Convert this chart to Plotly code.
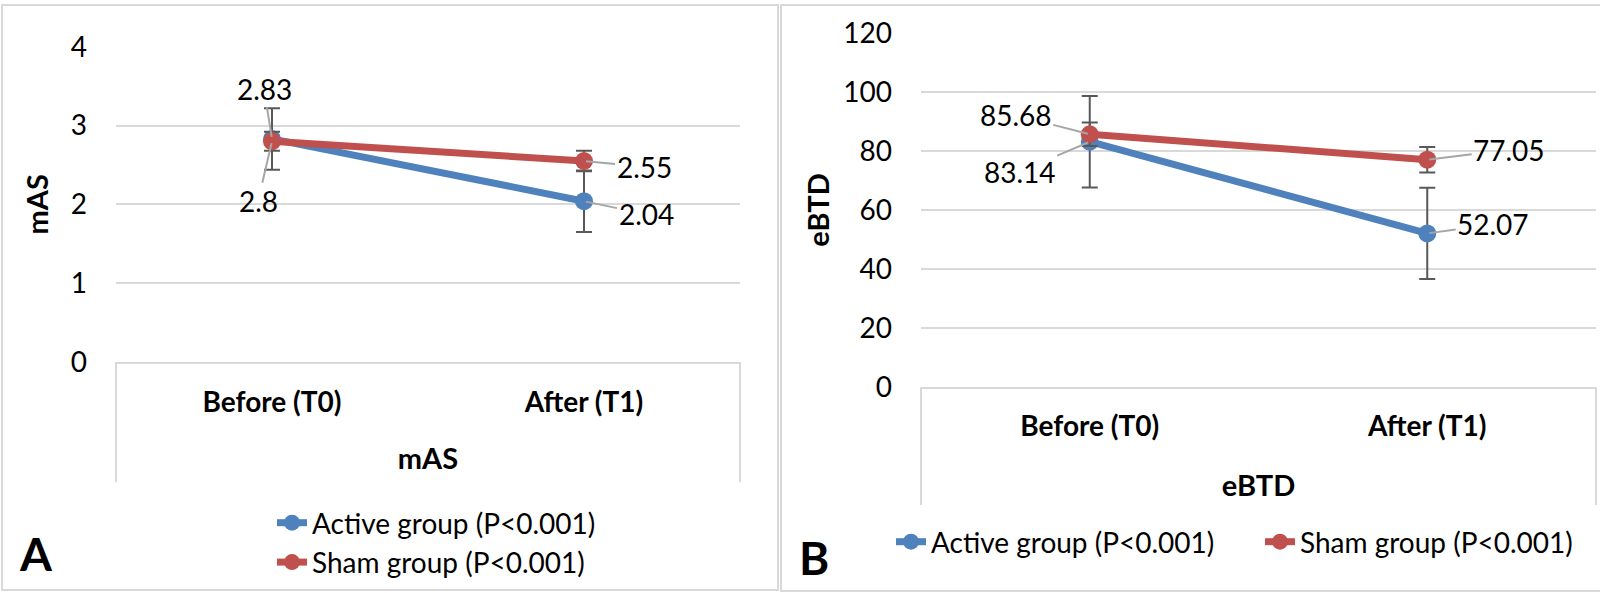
import plotly.graph_objects as go

# ---- data ----
categories = ["Before (T0)", "After (T1)"]

mas_active = [2.83, 2.04]
mas_active_sd = [0.39, 0.39]
mas_sham = [2.80, 2.55]
mas_sham_sd = [0.12, 0.13]

ebtd_active = [83.14, 52.07]
ebtd_active_sd = [15.5, 15.5]
ebtd_sham = [85.68, 77.05]
ebtd_sham_sd = [4.0, 4.3]

active_name = "Active group (P<0.001)"
sham_name = "Sham group (P<0.001)"

BLUE = "#4F81BD"
RED = "#C0504D"
GRID = "#D9D9D9"
ERR = "#595959"
LEADER = "#A6A6A6"
FONT = "Lato"

W, H = 1600, 593


def px_x(v):
    return v / W


def px_y(v):
    return 1 - v / H


fig = go.Figure()


def add_series(xa, ya, vals, sd, name, color, legend):
    fig.add_trace(go.Scatter(
        x=categories, y=vals, name=name, mode="lines+markers",
        line=dict(color=color, width=7),
        marker=dict(color=color, size=18),
        error_y=dict(type="data", array=sd, visible=True, color=ERR,
                     thickness=2, width=8),
        xaxis=xa, yaxis=ya, legend=legend, showlegend=True,
    ))


add_series("x", "y", mas_active, mas_active_sd, active_name, BLUE, "legend")
add_series("x", "y", mas_sham, mas_sham_sd, sham_name, RED, "legend")
add_series("x2", "y2", ebtd_active, ebtd_active_sd, active_name, BLUE, "legend2")
add_series("x2", "y2", ebtd_sham, ebtd_sham_sd, sham_name, RED, "legend2")

tickfont = dict(family=FONT, size=28, color="black")
catfont = dict(family=FONT, size=28, color="black", weight="bold")
titlefont = dict(family=FONT, size=29, color="black", weight="bold")

# panel A axes
fig.update_layout(
    xaxis=dict(domain=[px_x(116), px_x(740)], type="category",
               range=[-0.5, 1.5], showgrid=False, showline=True,
               linecolor=GRID, linewidth=2, ticks="", tickfont=catfont,
               ticklabelstandoff=14, automargin=False,
               title=dict(text="mAS", font=titlefont, standoff=32),
               anchor="y", zeroline=False),
    yaxis=dict(domain=[px_y(362), px_y(46.7)], range=[0, 4], dtick=1,
               showgrid=True, gridcolor=GRID, gridwidth=2, zeroline=False,
               showline=False, ticks="", tickfont=tickfont,
               ticklabelstandoff=28, automargin=False,
               title=dict(text="mAS", font=titlefont, standoff=13),
               anchor="x"),
    xaxis2=dict(domain=[px_x(921), px_x(1596)], type="category",
                range=[-0.5, 1.5], showgrid=False, showline=True,
                linecolor=GRID, linewidth=2, ticks="", tickfont=catfont,
                ticklabelstandoff=13, automargin=False,
                title=dict(text="eBTD", font=titlefont, standoff=35),
                anchor="y2", zeroline=False),
    yaxis2=dict(domain=[px_y(387), px_y(33)], range=[0, 120], dtick=20,
                showgrid=True, gridcolor=GRID, gridwidth=2, zeroline=False,
                showline=False, ticks="", tickfont=tickfont,
                ticklabelstandoff=28, automargin=False,
                title=dict(text="eBTD", font=titlefont, standoff=5),
                anchor="x2"),
)

legfont = dict(family=FONT, size=28, color="black")
fig.update_layout(
    legend=dict(x=px_x(272), y=px_y(542.5), xanchor="left", yanchor="middle",
                orientation="v", font=legfont, bgcolor="rgba(0,0,0,0)",
                tracegroupgap=0, itemwidth=30),
    legend2=dict(x=px_x(891), y=px_y(542), xanchor="left", yanchor="middle",
                 orientation="h", font=legfont, bgcolor="rgba(0,0,0,0)",
                 itemwidth=30, entrywidth=324),
)

# frames and category-axis box lines
shapes = [
    dict(type="rect", xref="paper", yref="paper", x0=px_x(2), x1=px_x(778),
         y0=px_y(590), y1=px_y(5), line=dict(color=GRID, width=2)),
    dict(type="rect", xref="paper", yref="paper", x0=px_x(781), x1=px_x(1604),
         y0=px_y(591), y1=px_y(5), line=dict(color=GRID, width=2)),
]
for x0, ytop, ybot in [(116, 362, 482), (740, 362, 482), (921, 387, 505), (1596, 387, 505)]:
    shapes.append(dict(type="line", xref="paper", yref="paper",
                       x0=px_x(x0), x1=px_x(x0), y0=px_y(ytop), y1=px_y(ybot),
                       line=dict(color=GRID, width=2)))
fig.update_layout(shapes=shapes)

# data labels with leader lines
labfont = dict(family=FONT, size=28, color="black")
ann = []


def label(xref, yref, cat, val, text, ax, ay):
    ann.append(dict(x=cat, y=val, xref=xref, yref=yref, text=text,
                    showarrow=True, arrowhead=0, arrowwidth=2,
                    arrowcolor=LEADER, ax=ax, ay=ay, standoff=2,
                    font=labfont))


label("x", "y", categories[0], mas_active[0], f"{mas_active[0]:g}", -8, -50)
label("x", "y", categories[0], mas_sham[0], f"{mas_sham[0]:g}", -14, 60)
label("x", "y", categories[1], mas_sham[1], f"{mas_sham[1]:g}", 60, 6)
label("x", "y", categories[1], mas_active[1], f"{mas_active[1]:g}", 62, 13)
label("x2", "y2", categories[0], ebtd_sham[0], f"{ebtd_sham[0]:g}", -74, -19)
label("x2", "y2", categories[0], ebtd_active[0], f"{ebtd_active[0]:g}", -70, 30)
label("x2", "y2", categories[1], ebtd_sham[1], f"{ebtd_sham[1]:g}", 82, -10)
label("x2", "y2", categories[1], ebtd_active[1], f"{ebtd_active[1]:g}", 66, -9)

# panel letters
for letter, cx, cy in [("A", 36, 553), ("B", 814, 557)]:
    ann.append(dict(x=px_x(cx), y=px_y(cy), xref="paper", yref="paper",
                    text=f"<b>{letter}</b>", showarrow=False,
                    xanchor="center", yanchor="middle",
                    font=dict(family=FONT, size=46, color="black")))

fig.update_layout(annotations=ann)

fig.update_layout(
    width=W, height=H, margin=dict(l=0, r=0, t=0, b=0, autoexpand=False),
    paper_bgcolor="white", plot_bgcolor="white",
    font=dict(family=FONT, color="black"),
)

fig.write_html("out.html", config={"displayModeBar": False},
               post_script="document.body.style.margin='0';document.body.style.overflow='hidden';")
